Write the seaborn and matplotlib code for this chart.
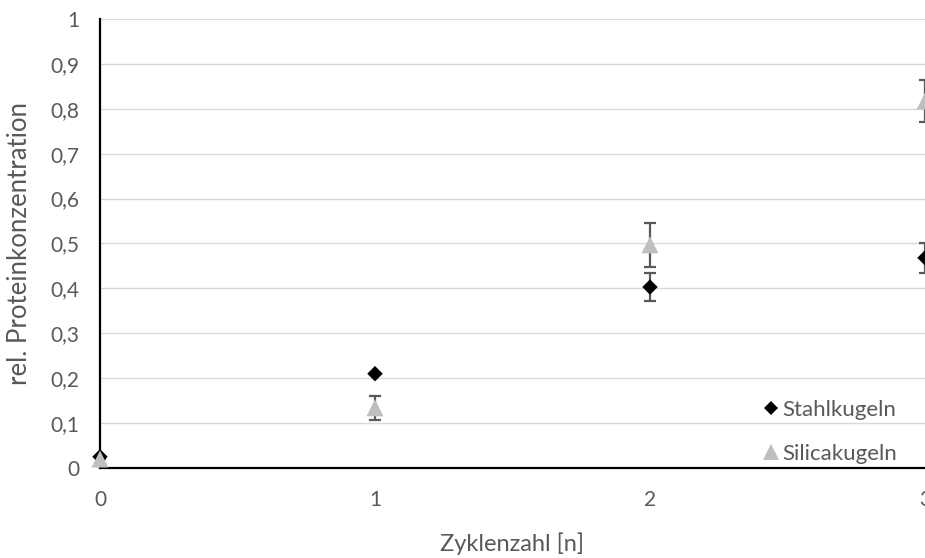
import matplotlib
matplotlib.use("Agg")
import matplotlib.pyplot as plt
import seaborn as sns
import pandas as pd

# Measured relative protein concentration per cycle
cycles = [0, 1, 2, 3]
stahl_values = [0.025, 0.21, 0.403, 0.468]
stahl_errors = [0.0, 0.0, 0.031, 0.033]
silica_values = [0.02, 0.134, 0.497, 0.817]
silica_errors = [0.0, 0.027, 0.049, 0.047]
series_names = ["Stahlkugeln", "Silicakugeln"]

x_ticks = [0, 1, 2, 3]
y_ticks = [0, 0.1, 0.2, 0.3, 0.4, 0.5, 0.6, 0.7, 0.8, 0.9, 1.0]
y_tick_labels = ["0", "0,1", "0,2", "0,3", "0,4", "0,5", "0,6", "0,7", "0,8", "0,9", "1"]

sns.set_style("white")
plt.rcParams["font.family"] = ["Lato", "DejaVu Sans"]

text_grey = "#595959"
grid_grey = "#D9D9D9"

stahl_df = pd.DataFrame({"Zyklen": cycles, "Wert": stahl_values,
                         "Serie": [series_names[0]] * len(cycles)})
silica_df = pd.DataFrame({"Zyklen": cycles, "Wert": silica_values,
                          "Serie": [series_names[1]] * len(cycles)})

fig = plt.figure(figsize=(9.25, 5.58), dpi=100)
ax = fig.add_axes([0.1081, 0.1613, 0.8919, 0.8047])

for yt in y_ticks[1:]:
    ax.axhline(yt, color=grid_grey, lw=1.0, zorder=0)

# error bars first, markers on top
ax.errorbar(cycles, stahl_values, yerr=stahl_errors, fmt="none",
            ecolor=text_grey, elinewidth=1.6, capsize=4.5, capthick=1.6, zorder=2)
ax.errorbar(cycles, silica_values, yerr=silica_errors, fmt="none",
            ecolor=text_grey, elinewidth=1.6, capsize=4.5, capthick=1.6, zorder=2)

sns.scatterplot(data=stahl_df, x="Zyklen", y="Wert", hue="Serie",
                palette=["black"], marker="D", s=62, linewidth=0,
                ax=ax, zorder=3, clip_on=False)
sns.scatterplot(data=silica_df, x="Zyklen", y="Wert", hue="Serie",
                palette=["#BFBFBF"], marker="^", s=150, linewidth=0,
                ax=ax, zorder=4, clip_on=False)

ax.set_xlim(0, 3)
ax.set_ylim(0, 1)
ax.set_xticks(x_ticks)
ax.set_xticklabels([str(t) for t in x_ticks])
ax.set_yticks(y_ticks)
ax.set_yticklabels(y_tick_labels)

for side in ["top", "right"]:
    ax.spines[side].set_visible(False)
for side in ["left", "bottom"]:
    ax.spines[side].set_color("black")
    ax.spines[side].set_linewidth(1.6)

ax.tick_params(axis="both", direction="out", length=7, width=1.6, color="black",
               labelcolor=text_grey, labelsize=15, pad=8)
ax.tick_params(axis="x", pad=9)

ax.set_xlabel("Zyklenzahl [n]", color=text_grey, fontsize=17, labelpad=16)
ax.set_ylabel("rel. Proteinkonzentration", color=text_grey, fontsize=18.5, labelpad=13)

leg = ax.legend(loc="lower right", bbox_to_anchor=(0.99, -0.036), frameon=False,
                fontsize=16, labelspacing=1.1, handletextpad=0.0,
                handlelength=1.0, markerscale=0.9)
for t in leg.get_texts():
    t.set_color(text_grey)

fig.savefig("out.png", dpi=100)
